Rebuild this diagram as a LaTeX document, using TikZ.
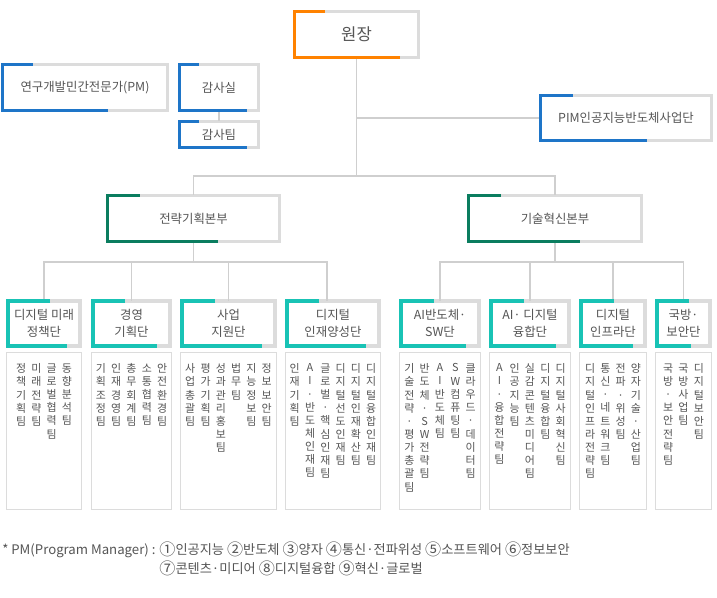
\documentclass[tikz,border=0pt]{standalone}
\usepackage{fontspec}
\setmainfont{Noto Sans CJK KR}
\usetikzlibrary{positioning,calc}

\definecolor{boxorange}{HTML}{FF8200}
\definecolor{boxblue}{HTML}{1E75C8}
\definecolor{boxgreen}{HTML}{0A7D5F}
\definecolor{boxteal}{HTML}{19C3B5}
\definecolor{boxgray}{HTML}{DCDCDC}
\definecolor{linkgray}{HTML}{CFCFCF}
\definecolor{inkgray}{HTML}{555555}

% one character under the other
\makeatletter
\newcommand\vcol[1]{\vbox{\baselineskip=9.85pt\lineskiplimit=-20pt\expandafter\vcol@loop#1\@nil}}
\def\vcol@loop#1{\ifx\@nil#1\else\hbox to 1em{\hss#1\hss}\expandafter\vcol@loop\fi}
\makeatother

% larger circled numbers
\newcommand\cnum[1]{\raisebox{-0.7pt}{\scalebox{1.22}{#1}}}

% coloured part of a box frame
\newcommand\markbox[5][2.25pt]{%
  \draw[#3, line width=#1, line join=miter] ($(#2.north west)+(#4,0)$) -- (#2.north west)
    -- (#2.south west) -- ($(#2.south east)+(-#5,0)$);}

\begin{document}
\begin{tikzpicture}[x=0.75pt, y=-0.75pt, text=inkgray, font=\fontsize{9.3}{12.5}\selectfont,
  main_box/.style={draw=boxgray, fill=white, line width=2.25pt, outer sep=0pt, inner sep=0pt, minimum height=34.5pt},
  head_box/.style={main_box, line width=3pt, minimum height=33.75pt, align=center},
  team_box/.style={draw=boxgray, line width=0.75pt, outer sep=0pt, minimum height=117.75pt},
  col_text/.style={anchor=north, inner sep=0pt, font=\fontsize{8.2}{10}\selectfont},
  link/.style={draw=linkgray, line width=0.9pt},
  elbow/.style={to path={(\tikztostart) -- ++(0,#1) -| (\tikztotarget)}}]

  \fill[white] (0,0) rectangle (717,598);
  \useasboundingbox (0,0) rectangle (717,598);

  \node[main_box, minimum width=93pt, font=\fontsize{12.5}{15}\selectfont] (won) at (356.5,34.5) {원장};
  \node[main_box, minimum width=123.75pt] (pm) at (85,87.5) {연구개발민간전문가(PM)};
  \node[main_box, minimum width=59.25pt] (audit) at (219,87.5) {감사실};
  \node[main_box, minimum width=59.25pt, minimum height=19.5pt, below=8.25pt of audit] (auditteam) {감사팀};
  \node[main_box, minimum width=128.25pt, minimum height=33.75pt] (pim) at (626,118) {PIM인공지능반도체사업단};
  \node[main_box, minimum width=129pt] (strat) at (193.5,218.5) {전략기획본부};
  \node[main_box, minimum width=129.75pt] (tech) at (555,218.5) {기술혁신본부};

  \foreach \i/\x/\w/\txt in {1/44/72/{디지털 미래\\정책단}, 2/131.5/77/{경영\\기획단},
      3/228.5/93/{사업\\지원단}, 4/333/92/{디지털\\인재양성단}, 5/440/78/{AI반도체·\\SW단},
      6/530/78/{AI· 디지털\\융합단}, 7/613/64/{디지털\\인프라단}, 8/683.5/53/{국방·\\보안단}}
  {
    \node[head_box, minimum width=\w*0.75pt] (h\i) at (\x,323.5) {\txt};
    \node[team_box, minimum width=(\w+3)*0.75pt, below=4.9pt of h\i] (low\i) {};
  }

  \foreach \i/\cnt/\teams in {
      1/4/{정책기획팀,미래전략팀,글로벌협력팀,동향분석팀},
      2/5/{기획조정팀,인재경영팀,총무회계팀,소통협력팀,안전환경팀},
      3/6/{사업총괄팀,평가기획팀,성과관리홍보팀,법무팀,지능정보팀,정보보안팀},
      4/6/{인재기획팀,AI·반도체인재팀,글로벌·핵심인재팀,디지털선도인재팀,디지털인재확산팀,디지털융합인재팀},
      5/5/{기술전략·평가총괄팀,반도체·SW전략팀,AI반도체팀,SW컴퓨팅팀,클라우드·데이터팀},
      6/5/{AI·융합전략팀,인공지능팀,실감콘텐츠미디어팀,디지털융합팀,디지털사회혁신팀},
      7/4/{디지털인프라전략팀,통신·네트워크팀,전파·위성팀,양자기술·산업팀},
      8/3/{국방·보안전략팀,국방사업팀,디지털보안팀}}
    \foreach \teamname [count=\j] in \teams
      \node[col_text] (t\i-\j) at ($(low\i.north)+({(\j-(\cnt+1)/2)*15.3},11)$) {\vcol{\teamname}};

  \path[every edge/.style=link]
    (won.south) edge[elbow=118.5] (strat.north)
                edge[elbow=118.5] (tech.north);
  \foreach \i in {1,...,3}
    \path[every edge/.style=link] (strat.south) edge[elbow=20.5] (h\i.north);
  \path[every edge/.style=link] (strat.south) edge[elbow=20.5] ([xshift=-4.5pt]h4.north);
  \foreach \i in {5,...,8}
    \path[every edge/.style=link] (tech.south) edge[elbow=20.5] (h\i.north);
  \coordinate (pj) at (won.south |- pim.west);
  \draw[link] (pj) -- (pim.west);
  \draw[link] (audit) -- (auditteam);

  \markbox{won}{boxorange}{30}{19}
  \markbox{pm}{boxblue}{30}{60}
  \markbox{audit}{boxblue}{19}{12}
  \markbox{auditteam}{boxblue}{19}{12}
  \markbox{pim}{boxblue}{32}{65}
  \markbox{strat}{boxgreen}{32}{62}
  \markbox{tech}{boxgreen}{32}{62}
  \foreach \i/\tp/\gp in {1/42/13, 2/32/13, 3/33/13, 4/32/13, 5/33/13, 6/33/13, 7/33/12, 8/32/19}
    {\markbox[3pt]{h\i}{boxteal}{\tp}{\gp}}

  \node[anchor=west, align=left, inner sep=0pt, font=\fontsize{9.9}{14.25}\selectfont] (note) at (2,558.5)
    {* PM(Program Manager) : \cnum{①}인공지능 \cnum{②}반도체 \cnum{③}양자 \cnum{④}통신·전파위성 \cnum{⑤}소프트웨어 \cnum{⑥}정보보안\\
     \hphantom{* PM(Program Manager) : }\cnum{⑦}콘텐츠·미디어 \cnum{⑧}디지털융합 \cnum{⑨}혁신·글로벌};
\end{tikzpicture}
\end{document}
